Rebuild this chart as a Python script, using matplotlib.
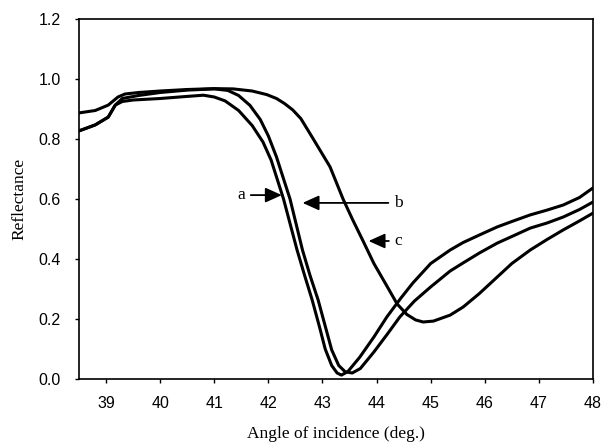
import matplotlib
matplotlib.use("Agg")
import matplotlib.pyplot as plt

# curve a
ax_a = [38.5, 38.8, 39.04, 39.17, 39.3, 39.5, 40.0, 40.5, 40.8, 41.0, 41.2, 41.45, 41.7, 41.9,
        42.05, 42.28, 42.53, 42.67, 42.81, 42.95, 43.05, 43.17, 43.27, 43.35, 43.47, 43.69, 43.95,
        44.19, 44.45, 44.67, 45.0, 45.36, 45.6, 45.9, 46.23, 46.5, 46.84, 47.15, 47.45, 47.75, 48.0]
ay_a = [0.827, 0.847, 0.873, 0.913, 0.925, 0.93, 0.935, 0.942, 0.946, 0.94, 0.927, 0.895, 0.845, 0.79,
        0.73, 0.6, 0.43, 0.345, 0.263, 0.17, 0.1, 0.045, 0.02, 0.013, 0.025, 0.073, 0.14,
        0.207, 0.27, 0.32, 0.385, 0.43, 0.455, 0.48, 0.507, 0.525, 0.547, 0.563, 0.58, 0.605, 0.637]

# curve b
ax_b = [38.5, 38.8, 39.04, 39.17, 39.3, 39.6, 40.0, 40.5, 41.0, 41.25, 41.45, 41.66, 41.85, 42.0,
        42.15, 42.4, 42.63, 42.77, 42.92, 43.06, 43.17, 43.3, 43.42, 43.55, 43.7, 43.95, 44.2, 44.43,
        44.7, 45.0, 45.36, 45.6, 45.9, 46.23, 46.5, 46.84, 47.15, 47.45, 47.75, 48.0]
ay_b = [0.827, 0.847, 0.873, 0.913, 0.935, 0.945, 0.955, 0.963, 0.967, 0.962, 0.945, 0.912, 0.865, 0.81,
        0.74, 0.6, 0.43, 0.345, 0.263, 0.17, 0.097, 0.045, 0.024, 0.02, 0.035, 0.09, 0.15, 0.207,
        0.26, 0.307, 0.36, 0.387, 0.42, 0.453, 0.475, 0.503, 0.52, 0.54, 0.565, 0.59]

# curve c
ax_c = [38.5, 38.8, 39.04, 39.22, 39.35, 39.6, 40.0, 40.5, 41.0, 41.35, 41.7, 41.97, 42.15, 42.3,
        42.45, 42.6, 42.83, 43.14, 43.38, 43.56, 43.75, 43.95, 44.19, 44.38, 44.56, 44.72, 44.86,
        45.05, 45.36, 45.6, 45.9, 46.23, 46.5, 46.84, 47.15, 47.45, 47.75, 48.0]
ay_c = [0.887, 0.895, 0.913, 0.94, 0.95, 0.955, 0.96, 0.965, 0.968, 0.967, 0.96, 0.948, 0.935, 0.918,
        0.897, 0.868, 0.8, 0.707, 0.6, 0.53, 0.46, 0.385, 0.31, 0.25, 0.215, 0.197, 0.19,
        0.193, 0.213, 0.24, 0.285, 0.34, 0.385, 0.43, 0.465, 0.497, 0.527, 0.553]

xticks = [39, 40, 41, 42, 43, 44, 45, 46, 47, 48]
yticks = [0.0, 0.2, 0.4, 0.6, 0.8, 1.0, 1.2]

serif = "Liberation Serif"
sans = "Liberation Sans"

fig = plt.figure(figsize=(6.05, 4.44), dpi=100)
ax = fig.add_axes([0.1306, 0.1464, 0.8496, 0.8108])

for xs, ys in [(ax_a, ay_a), (ax_b, ay_b), (ax_c, ay_c)]:
    ax.plot(xs, ys, color="black", lw=2.2, solid_joinstyle="round", solid_capstyle="round")

ax.set_xlim(38.5, 48)
ax.set_ylim(0, 1.2)
ax.set_xticks(xticks)
ax.set_yticks(yticks)
ax.set_yticklabels([f"{v:.1f}" for v in yticks])
ax.tick_params(direction="out", length=3, width=1, labelsize=11.5)
ax.tick_params(axis="x", pad=9)
ax.tick_params(axis="y", pad=10)
for lab in ax.get_xticklabels() + ax.get_yticklabels():
    lab.set_fontfamily(sans)
for s in ax.spines.values():
    s.set_linewidth(1.2)

ax.set_xlabel("Angle of incidence (deg.)", fontfamily=serif, fontsize=12.5, labelpad=11)
ax.set_ylabel("Reflectance", fontfamily=serif, fontsize=12.5, labelpad=8)

arrow = dict(arrowstyle="-|>,head_length=0.8,head_width=0.36", color="black", lw=1.3)
ax.annotate("a", xy=(42.3, 0.613), xytext=(41.5, 0.613), fontfamily=serif, fontsize=12.5,
            ha="center", va="center", arrowprops=arrow)
ax.annotate("b", xy=(42.58, 0.587), xytext=(44.4, 0.587), fontfamily=serif, fontsize=12.5,
            ha="center", va="center", arrowprops=arrow)
ax.annotate("c", xy=(43.8, 0.46), xytext=(44.4, 0.46), fontfamily=serif, fontsize=12.5,
            ha="center", va="center", arrowprops=arrow)

fig.savefig("out.png", dpi=100)
